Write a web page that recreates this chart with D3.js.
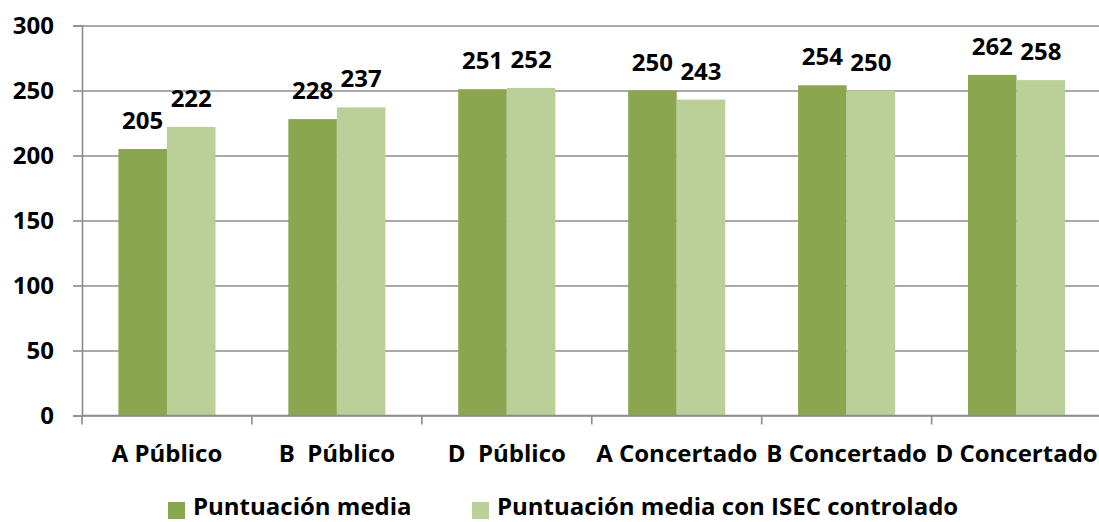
<!DOCTYPE html>
<html>
<head>
<meta charset="utf-8">
<script src="https://cdn.jsdelivr.net/npm/d3@7"></script>
<style>
  html, body { margin: 0; padding: 0; background: #ffffff; }
  svg { display: block; }
  text { font-family: "Open Sans", "Liberation Sans", sans-serif; font-weight: bold; fill: #000; }
</style>
</head>
<body>
<script>
const categories = ["A Público", "B  Público", "D  Público", "A Concertado", "B Concertado", "D Concertado"];
const seriesNames = ["Puntuación media", "Puntuación media con ISEC controlado"];
const puntuacionMedia = [205, 228, 251, 250, 254, 262];
const puntuacionISEC = [222, 237, 252, 243, 250, 258];
const yTicks = [0, 50, 100, 150, 200, 250, 300];
const colors = ["#8aa64f", "#bbcf98"];

const W = 1099, H = 522;
const mLeft = 82, mRight = 1101.5, mTop = 25.5, mBottom = 415.5;
const FS = "24px";

const svg = d3.select("body").append("svg").attr("width", W).attr("height", H);

const y = d3.scaleLinear().domain([0, 300]).range([mBottom, mTop]);
const x0 = d3.scaleBand().domain(categories).range([mLeft, mRight]).padding(0);
const x1 = d3.scaleBand().domain(seriesNames).range([0, x0.bandwidth()]).paddingInner(0).paddingOuter(0.75);

// gridlines
const grid = svg.append("g").attr("transform", `translate(${mLeft},0)`)
  .call(d3.axisLeft(y).tickValues(yTicks).tickSize(-(W - mLeft)).tickFormat(""));
grid.select(".domain").remove();
grid.selectAll("line").attr("stroke", "#8c8c8c").attr("stroke-width", 1.6);

// y axis
const yAxis = svg.append("g").attr("transform", `translate(${mLeft},0)`)
  .call(d3.axisLeft(y).tickValues(yTicks).tickSize(9).tickPadding(19));
yAxis.select(".domain").attr("stroke", "#8c8c8c").attr("stroke-width", 1.6);
yAxis.selectAll("line").attr("stroke", "#8c8c8c").attr("stroke-width", 1.6);
yAxis.selectAll("text").style("font-size", FS).style("font-family", "'Open Sans', sans-serif").style("font-weight", "bold").attr("fill", "#000");

// bars
const data = categories.map((c, i) => ({ cat: c, vals: [puntuacionMedia[i], puntuacionISEC[i]] }));
const groups = svg.append("g").selectAll("g").data(data).join("g")
  .attr("transform", d => `translate(${x0(d.cat)},0)`);
groups.selectAll("rect").data(d => d.vals.map((v, k) => ({ s: seriesNames[k], v, k })))
  .join("rect")
  .attr("x", d => x1(d.s))
  .attr("width", x1.bandwidth())
  .attr("y", d => y(d.v))
  .attr("height", d => y(0) - y(d.v))
  .attr("fill", d => colors[d.k]);
groups.selectAll("text.val").data(d => d.vals.map((v, k) => ({ s: seriesNames[k], v, k })))
  .join("text").attr("class", "val")
  .attr("x", d => x1(d.s) + x1.bandwidth() / 2)
  .attr("y", d => y(d.v) - 20)
  .attr("text-anchor", "middle")
  .style("font-size", FS)
  .text(d => d.v);

// x axis
const xAxis = svg.append("g").attr("transform", `translate(0,${mBottom})`)
  .call(d3.axisBottom(x0).tickSize(0).tickPadding(29.5));
xAxis.select(".domain").remove();
xAxis.selectAll("text").style("font-size", FS).style("font-family", "'Open Sans', sans-serif")
  .style("font-weight", "bold").style("white-space", "pre").attr("fill", "#000");
svg.append("line").attr("x1", mLeft).attr("x2", W).attr("y1", y(0)).attr("y2", y(0))
  .attr("stroke", "#8c8c8c").attr("stroke-width", 1.6);
const bounds = categories.map(c => x0(c)).concat([x0(categories[categories.length - 1]) + x0.bandwidth()]);
svg.append("g").selectAll("line").data(bounds).join("line")
  .attr("x1", d => d).attr("x2", d => d)
  .attr("y1", y(0)).attr("y2", y(0) + 9)
  .attr("stroke", "#8c8c8c").attr("stroke-width", 1.6);

// legend
const legendX = [168, 472];
const lg = svg.append("g").selectAll("g").data(seriesNames).join("g")
  .attr("transform", (d, i) => `translate(${legendX[i]},502)`);
lg.append("rect").attr("width", 17).attr("height", 17).attr("fill", (d, i) => colors[i]);
lg.append("text").attr("x", 25).attr("y", 13).style("font-size", FS).text(d => d);
</script>
</body>
</html>
